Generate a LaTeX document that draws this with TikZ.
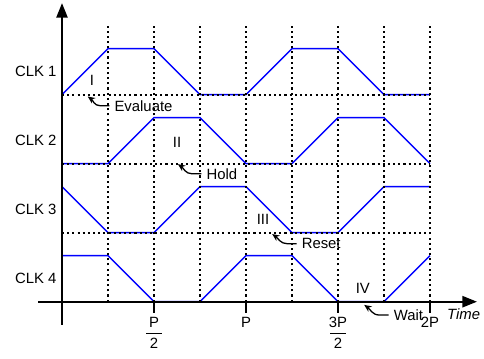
\documentclass[tikz,border=0pt]{standalone}
\usepackage{amsmath}
\usepackage{fontspec}
\setmainfont{Liberation Sans}
\usepackage{tikz}
\usetikzlibrary{arrows.meta, positioning, calc}
\definecolor{clkblue}{RGB}{0,0,255}
\definecolor{inkdark}{RGB}{0,0,0}
\newcommand{\tickfrac}[2]{$\genfrac{}{}{0.8pt}{0}{\makebox[9.5pt]{#1}}{\text{#2}}$}
\tikzset{
  axisline/.style={line width=1pt, color=inkdark,
    -{Triangle[length=9pt, width=7pt]}},
  wave/.style={color=clkblue, line width=0.9pt},
  guide/.style={color=inkdark, line width=1.3pt,
    dash pattern=on 1.3pt off 1.9pt},
  notearrow/.style={color=inkdark, line width=0.8pt,
    -{Stealth[length=4.5pt, width=4pt]}},
  lbl/.style={font=\fontsize{9.2}{11}\selectfont, inner sep=1pt},
  notelbl/.style={font=\fontsize{9.2}{11}\selectfont, inner sep=3pt, anchor=west}
}

\begin{document}
\begin{tikzpicture}[x=1cm, y=1cm]
  \useasboundingbox (-1.348,-1.224) rectangle (9.174,6.559);

  % ── clock waveforms ─────────────────────────────────────────────
  \draw[wave, yshift=4.5cm] (0,0) -- (1,1) -- (2,1) -- (3,0) -- (4,0)
    -- (5,1) -- (6,1) -- (7,0) -- (8,0);
  \draw[wave, yshift=3cm] (0,0) -- (1,0) -- (2,1) -- (3,1) -- (4,0)
    -- (5,0) -- (6,1) -- (7,1) -- (8,0);
  \draw[wave, yshift=1.5cm] (0,1) -- (1,0) -- (2,0) -- (3,1) -- (4,1)
    -- (5,0) -- (6,0) -- (7,1) -- (8,1);
  \draw[wave] (0,1) -- (1,1) -- (2,0) -- (3,0) -- (4,1)
    -- (5,1) -- (6,0) -- (7,0) -- (8,1);

  % ── dotted guides ───────────────────────────────────────────────
  \foreach \i in {1,...,8}
    \draw[guide] (\i,0) -- (\i,6);
  \foreach \b in {4.5,3,1.5}
    \draw[guide] (0,\b) -- (8,\b);

  % ── axes ────────────────────────────────────────────────────────
  \coordinate (origin) at (0,0);
  \coordinate (xend) at (9.02,0);
  \coordinate (yend) at (0,6.49);
  \draw[axisline] (-0.52,0) -- (xend);
  \draw[axisline] (0,-0.5) -- (yend);
  \node[lbl, anchor=west, font=\fontsize{9.2}{11}\selectfont\itshape]
    (timelbl) at (8.33,-0.27) {Time};

  % Ticks on the time axis
  \foreach \i/\t/\n in {2/{\tickfrac{P}{2}}/half, 4/P/one,
                        6/{\tickfrac{3P}{2}}/threehalf, 8/2P/two} {
    \draw[line width=1pt] (\i,0) -- (\i,-0.25);
    \node[lbl, below=1.5pt] (tick\n) at (\i,-0.25) {\t};
  }

  % ── clock names ─────────────────────────────────────────────────
  \foreach \k/\b in {1/4.5, 2/3, 3/1.5, 4/0}
    \node[lbl, anchor=east] (clk\k) at (-0.08,\b+0.5) {CLK \k};

  % ── phases ──────────────────────────────────────────────────────
  \node[lbl] (phaseI)   at (0.65,4.82) {I};
  \node[lbl] (phaseII)  at (2.50,3.47) {II};
  \node[lbl] (phaseIII) at (4.37,1.80) {III};
  \node[lbl] (phaseIV)  at (6.54,0.28) {IV};

  % Notes with arrows
  \coordinate (evaluatetip) at (0.56,4.46);
  \coordinate (holdtip)     at (2.52,2.99);
  \coordinate (resettip)    at (4.57,1.47);
  \coordinate (waittip)     at (6.57,-0.07);
  \node[notelbl] (evaluate) at (1.03,4.26) {Evaluate};
  \node[notelbl] (hold)     at (3.03,2.78) {Hold};
  \node[notelbl] (reset)    at (5.10,1.26) {Reset};
  \node[notelbl] (wait)     at (7.10,-0.29) {Wait};
  \foreach \n in {evaluate, hold, reset, wait}
    \draw[notearrow] (\n.west) -- ++(-0.2,0) to[out=180, in=-35] (\n tip);
\end{tikzpicture}
\end{document}
